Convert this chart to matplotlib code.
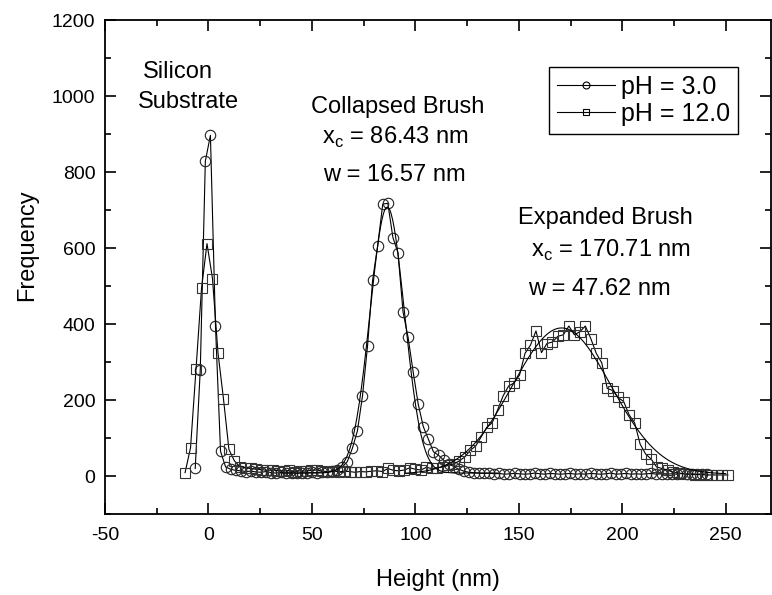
import numpy as np
import matplotlib
matplotlib.use("Agg")
import matplotlib.pyplot as plt
from matplotlib.lines import Line2D
from matplotlib.ticker import MultipleLocator

plt.rcParams['font.family'] = ['Liberation Sans', 'DejaVu Sans']
plt.rcParams['mathtext.fontset'] = 'custom'
plt.rcParams['mathtext.rm'] = 'Liberation Sans'
plt.rcParams['axes.unicode_minus'] = False

# pH 3.0 histogram (circles)
ph3_x = [-6.4, -3.95, -1.5, 0.95, 3.4, 5.85, 8.3, 10.75, 13.2, 15.65, 18.1, 20.55,
         23.0, 25.45, 27.9, 30.35, 32.8, 35.25, 37.7, 40.15, 42.6, 45.05, 47.5, 49.95,
         52.4, 54.85, 57.3, 59.75, 62.2, 64.65, 67.1, 69.55, 72.0, 74.45, 76.9, 79.35,
         81.8, 84.25, 86.7, 89.15, 91.6, 94.05, 96.5, 98.95, 101.4, 103.85, 106.3, 108.75,
         111.2, 113.65, 116.1, 118.55, 121.0, 123.45, 125.9, 128.35, 130.8, 133.25, 135.7,
         138.15, 140.6, 143.05, 145.5, 147.95, 150.4, 152.85, 155.3, 157.75, 160.2, 162.65,
         165.1, 167.55, 170.0, 172.45, 174.9, 177.35, 179.8, 182.25, 184.7, 187.15, 189.6,
         192.05, 194.5, 196.95, 199.4, 201.85, 204.3, 206.75, 209.2, 211.65, 214.1, 216.55,
         219.0, 221.45, 223.9, 226.35, 228.8, 231.25, 233.7, 236.15, 238.6, 241.05]
ph3_y = [20, 280, 829, 897, 395, 65, 24, 18, 15, 14, 12, 13,
         11, 10, 12, 9, 8, 10, 8, 9, 7, 9, 8, 10,
         9, 11, 10, 13, 17, 24, 38, 73, 119, 211, 343, 516,
         607, 716, 718, 628, 588, 432, 365, 274, 189, 130, 97, 64,
         55, 42, 33, 25, 18, 13, 10, 9, 8, 7, 8,
         6, 7, 5, 6, 7, 6, 5, 6, 8, 6, 5,
         7, 6, 5, 6, 7, 5, 6, 5, 7, 6, 5,
         6, 8, 5, 6, 7, 5, 6, 5, 6, 7, 5,
         6, 5, 6, 5, 7, 5, 6, 5, 6, 5]

# pH 12.0 histogram (squares)
ph12_x = [-11.3, -8.65, -6.0, -3.35, -0.7, 1.95, 4.6, 7.25, 9.9, 12.55, 15.2, 17.85,
          20.5, 23.15, 25.8, 28.45, 31.1, 33.75, 36.4, 39.05, 41.7, 44.35, 47.0, 49.65,
          52.3, 54.95, 57.6, 60.25, 62.9, 65.55, 68.2, 70.85, 73.5, 76.15, 78.8, 81.45,
          84.1, 86.75, 89.4, 92.05, 94.7, 97.35, 100.0, 102.65, 105.3, 107.95, 110.6,
          113.25, 115.9, 118.55, 121.2, 123.85, 126.5, 129.15, 131.8, 134.45, 137.1,
          139.75, 142.4, 145.05, 147.7, 150.35, 153.0, 155.65, 158.3, 160.95, 163.6,
          166.25, 168.9, 171.55, 174.2, 176.85, 179.5, 182.15, 184.8, 187.45, 190.1,
          192.75, 195.4, 198.05, 200.7, 203.35, 206.0, 208.65, 211.3, 213.95, 216.6,
          219.25, 221.9, 224.55, 227.2, 229.85, 232.5, 235.15, 237.8, 240.45, 243.1,
          245.75, 248.4, 251.05]
ph12_y = [9, 75, 282, 494, 612, 520, 325, 204, 70, 40, 25, 22,
          20, 18, 17, 15, 16, 14, 13, 15, 12, 14, 13, 15,
          16, 13, 12, 14, 11, 13, 12, 10, 12, 11, 13, 14,
          12, 20, 15, 14, 16, 22, 18, 16, 23, 20, 22,
          24, 28, 32, 40, 50, 68, 79, 103, 128, 140,
          174, 211, 237, 245, 266, 323, 345, 382, 325, 349,
          353, 368, 372, 395, 372, 380, 395, 362, 323, 298,
          231, 225, 207, 196, 161, 140, 84, 58, 45, 24,
          20, 16, 10, 8, 6, 5, 4, 4, 3, 3,
          3, 3, 3]

# gaussian fit parameters (from the annotations)
coll_xc, coll_w, coll_h, coll_y0 = 86.43, 16.57, 700, 8
exp_xc, exp_w, exp_h, exp_y0 = 170.71, 47.62, 385, 5


def gauss(x, xc, w, h, y0):
    return y0 + h * np.exp(-2 * ((x - xc) / w) ** 2)


fig = plt.figure(figsize=(7.72, 5.95), dpi=100)
ax = fig.add_axes([0.136, 0.136, 0.863, 0.830])

ax.plot(ph3_x, ph3_y, color='k', lw=0.8, marker='o', ms=7.5, mfc='none',
        mec='#222222', mew=0.8)
ax.plot(ph12_x, ph12_y, color='k', lw=0.8, marker='s', ms=7.5, mfc='none',
        mec='#333333', mew=0.8)

xf = np.linspace(35, 140, 300)
ax.plot(xf, gauss(xf, coll_xc, coll_w, coll_h, coll_y0), color='k', lw=0.8)
xf2 = np.linspace(95, 250, 300)
ax.plot(xf2, gauss(xf2, exp_xc, exp_w, exp_h, exp_y0), color='k', lw=0.8)

ax.set_xlim(-50, 272)
ax.set_ylim(-100, 1200)
ax.xaxis.set_major_locator(MultipleLocator(50))
ax.xaxis.set_minor_locator(MultipleLocator(25))
ax.yaxis.set_major_locator(MultipleLocator(200))
ax.yaxis.set_minor_locator(MultipleLocator(100))
ax.tick_params(which='both', direction='in', top=True, right=True, width=1.2,
               labelsize=14)
ax.tick_params(which='major', length=8)
ax.tick_params(which='minor', length=4.5)
ax.tick_params(axis='x', pad=9)
ax.tick_params(axis='y', pad=7)
for s in ax.spines.values():
    s.set_linewidth(1.3)

ax.set_xlabel('Height (nm)', fontsize=17)
ax.set_ylabel('Frequency', fontsize=17)
ax.xaxis.set_label_coords(0.5, -0.112)
ax.yaxis.set_label_coords(-0.1, 0.545)

fs = 17
ax.text(-15, 1063, 'Silicon', fontsize=fs, ha='center', va='center')
ax.text(-9.7, 984, 'Substrate', fontsize=fs, ha='center', va='center')
ax.text(91.4, 971, 'Collapsed Brush', fontsize=fs, ha='center', va='center')
ax.text(90.4, 892, r'x$_{\mathrm{c}}$ = 86.43 nm', fontsize=fs, ha='center', va='center')
ax.text(90, 792, 'w = 16.57 nm', fontsize=fs, ha='center', va='center')
ax.text(149.4, 679, 'Expanded Brush', fontsize=fs, ha='left', va='center')
ax.text(155.7, 595, r'x$_{\mathrm{c}}$ = 170.71 nm', fontsize=fs, ha='left', va='center')
ax.text(154.3, 492, 'w = 47.62 nm', fontsize=fs, ha='left', va='center')

handles = [Line2D([], [], color='k', lw=0.8, marker='o', ms=5, mfc='none', mec='k', mew=0.8),
           Line2D([], [], color='k', lw=0.8, marker='s', ms=5, mfc='none', mec='k', mew=0.8)]
leg = ax.legend(handles, ['pH = 3.0', 'pH = 12.0'], loc='upper right',
                bbox_to_anchor=(0.9505, 0.905), fontsize=18, fancybox=False,
                framealpha=1, edgecolor='k', handlelength=2.3, handletextpad=0.25,
                labelspacing=0.12, borderpad=0.32, borderaxespad=0)
leg.get_frame().set_linewidth(1.0)

fig.savefig('out.png', dpi=100)
